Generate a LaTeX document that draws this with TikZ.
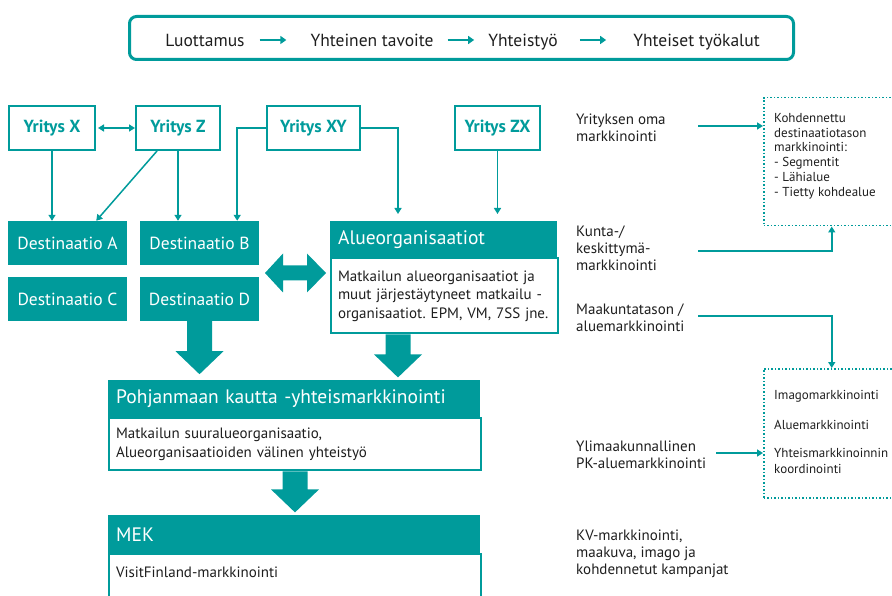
\documentclass[tikz,border=0pt]{standalone}
\usepackage{fontspec}
\setmainfont{PT Sans}
\usetikzlibrary{arrows.meta,calc}
\frenchspacing

\definecolor{pkteal}{RGB}{0,155,155}
\definecolor{ink}{RGB}{30,30,30}

\newcommand{\blockdown}[2]{\fill[pkteal] (#1) ++(-12.5,0) -- ++(0,#2) -- ++(-11.5,0) -- ++(24,23) -- ++(24,-23) -- ++(-11.5,0) -- ++(0,-#2) -- cycle;}

\tikzset{
	topword/.style={text=ink, font=\fontsize{17.5}{20}\selectfont, inner sep=0pt, text height=12.5pt, text depth=0pt},
	toparrow/.style={draw=pkteal, line width=2.5pt, -{Triangle[length=6pt,width=8pt]}},
	yritys/.style={draw=pkteal, line width=2pt, text=pkteal, font=\bfseries\fontsize{17.5}{20}\selectfont, minimum height=44pt},
	dest/.style={fill=pkteal, text=white, font=\fontsize{17.5}{20}\selectfont, minimum width=119pt, minimum height=44pt},
	hdr/.style={fill=pkteal, text=white, font=\fontsize{19.5}{22}\selectfont, anchor=north west, inner xsep=8pt, align=left},
	txtbox/.style={draw=pkteal, line width=2pt, fill=white, text=ink, font=\fontsize{15}{18.5}\selectfont, anchor=north west, inner xsep=7pt, align=left},
	link/.style={draw=pkteal, line width=1.5pt, -{Triangle[length=6pt,width=7pt]}},
	dlink/.style={draw=pkteal, line width=1.5pt, {Triangle[length=6pt,width=7pt]}-{Triangle[length=6pt,width=7pt]}},
	note/.style={text=ink, font=\fontsize{15}{17}\selectfont, anchor=west, align=left, inner sep=0pt},
	small/.style={text=ink, font=\fontsize{13}{14.8}\selectfont, anchor=north west, align=left, inner sep=0pt},
	pointer/.style={draw=pkteal, line width=2pt, -{Triangle[length=6pt,width=7pt]}},
	dotbox/.style={draw=pkteal, dotted, line width=1.5pt, anchor=north west}
}

\begin{document}
\begin{tikzpicture}[x=1pt,y=-1pt]
	\useasboundingbox (0,0) rectangle (892,596);
	\clip (0,0) rectangle (892,596);

	\node[draw=pkteal, line width=3pt, rounded corners=7pt, minimum width=664pt, minimum height=43pt] (frame) at (461.5,38) {};
	\node[topword] (trust) at (205,40) {Luottamus};
	\node[topword] (goal) at (372,40) {Yhteinen tavoite};
	\node[topword] (coop) at (523,40) {Yhteistyö};
	\node[topword] (tools) at (696.5,40) {Yhteiset työkalut};
	\draw[toparrow, shorten <=15pt, shorten >=24pt] (trust) -- (goal);
	\draw[toparrow, shorten <=14pt, shorten >=14pt] (goal) -- (coop);
	\draw[toparrow, shorten <=22pt, shorten >=27pt] (coop) -- (tools);

	\node[yritys, minimum width=86pt] (yx) at (52,128) {Yritys X};
	\node[yritys, minimum width=84pt] (yz) at (178,128) {Yritys Z};
	\node[yritys, minimum width=93pt] (yxy) at (313.5,128) {Yritys XY};
	\node[yritys, minimum width=85pt] (yzx) at (497.5,128) {Yritys ZX};

	\node[dest] (da) at (67.5,243) {Destinaatio A};
	\node[dest] (db) at (199.5,243) {Destinaatio B};
	\node[dest] (dc) at (67.5,299) {Destinaatio C};
	\node[dest] (dd) at (199.5,299) {Destinaatio D};

	\node[hdr, text width=211pt, minimum height=36pt] (alue) at (330,221) {Alueorganisaatiot};
	\node[txtbox, text width=213pt, minimum height=75pt] (aluetxt) at (alue.south west) {Matkailun alueorganisaatiot ja\\muut järjestäytyneet matkailu -\\organisaatiot. EPM, VM, 7SS jne.};

	\node[hdr, text width=356pt, minimum height=37pt] (pohj) at (108,380) {Pohjanmaan kautta -yhteismarkkinointi};
	\node[txtbox, text width=358pt, minimum height=52pt] (pohjtxt) at (pohj.south west) {Matkailun suuralueorganisaatio,\\Alueorganisaatioiden välinen yhteistyö};

	\node[hdr, text width=356pt, minimum height=38pt] (mek) at (108,515) {MEK};
	\node[txtbox, text width=358pt, minimum height=60pt, text depth=24pt] (mektxt) at (mek.south west) {VisitFinland-markkinointi};

	\draw[link] (yx) -- (yx |- da.north);
	\draw[link] ([xshift=22pt]yz.south west) -- ([xshift=-31pt]da.north east);
	\draw[link] (yz) -- (yz |- db.north);
	\draw[link] (yxy) -| ([xshift=-22pt]db.north east);
	\draw[link, shorten >=7pt] (yxy) -| ([xshift=68pt]alue.north west);
	\draw[link, shorten >=7pt] (yzx) -- (yzx |- alue.north);
	\draw[dlink, shorten <=2pt] (yx) -- (yz);

	\blockdown{dd.south}{30}
	\blockdown{[xshift=-46.5pt]aluetxt.south}{20}
	\blockdown{pohjtxt.south}{18}

	\coordinate (swap) at (295.5,273);
	\fill[pkteal] (swap) ++(-30.5,0) -- ++(18,-19.5) -- ++(0,12) -- ++(24,0) -- ++(0,-12) -- ++(19,19.5) -- ++(-19,19.5) -- ++(0,-12) -- ++(-24,0) -- ++(0,12) -- cycle;

	\node[note] (own) at (576,128) {Yrityksen oma\\markkinointi};
	\node[note] (kunta) at (576,248) {Kunta-/\\keskittymä-\\markkinointi};
	\node[note] (maak) at (576,317.5) {Maakuntatason /\\aluemarkkinointi};
	\node[note] (ylim) at (576,454.5) {Ylimaakunnallinen\\PK-aluemarkkinointi};
	\node[note] (kv) at (576,554) {KV-markkinointi,\\maakuva, imago ja\\kohdennetut kampanjat};

	\node[dotbox, minimum width=136pt, minimum height=128pt] (kohde) at (763,97) {};
	\node[small] (kohdetxt) at (774,113) {Kohdennettu\\destinaatiotason\\markkinointi:\\- Segmentit\\- Lähialue\\- Tietty kohdealue};
	\node[dotbox, minimum width=136pt, minimum height=129pt] (pkbox) at (763,368) {};
	\node[small] (pktxt) at (774,390) {Imagomarkkinointi\\[15pt]Aluemarkkinointi\\[13pt]Yhteismarkkinoinnin\\[2pt]koordinointi};

	\coordinate (own-out) at (698,126);
	\coordinate (kunta-out) at (698,251);
	\coordinate (maak-out) at (698,316);
	\coordinate (ylim-out) at (716,453);
	\draw[pointer] (own-out) -- (own-out -| kohde.west);
	\draw[pointer] (kunta-out) -| (kohde.south);
	\draw[pointer] (maak-out) -| (pkbox.north);
	\draw[pointer] (ylim-out) -- (ylim-out -| pkbox.west);
\end{tikzpicture}
\end{document}
